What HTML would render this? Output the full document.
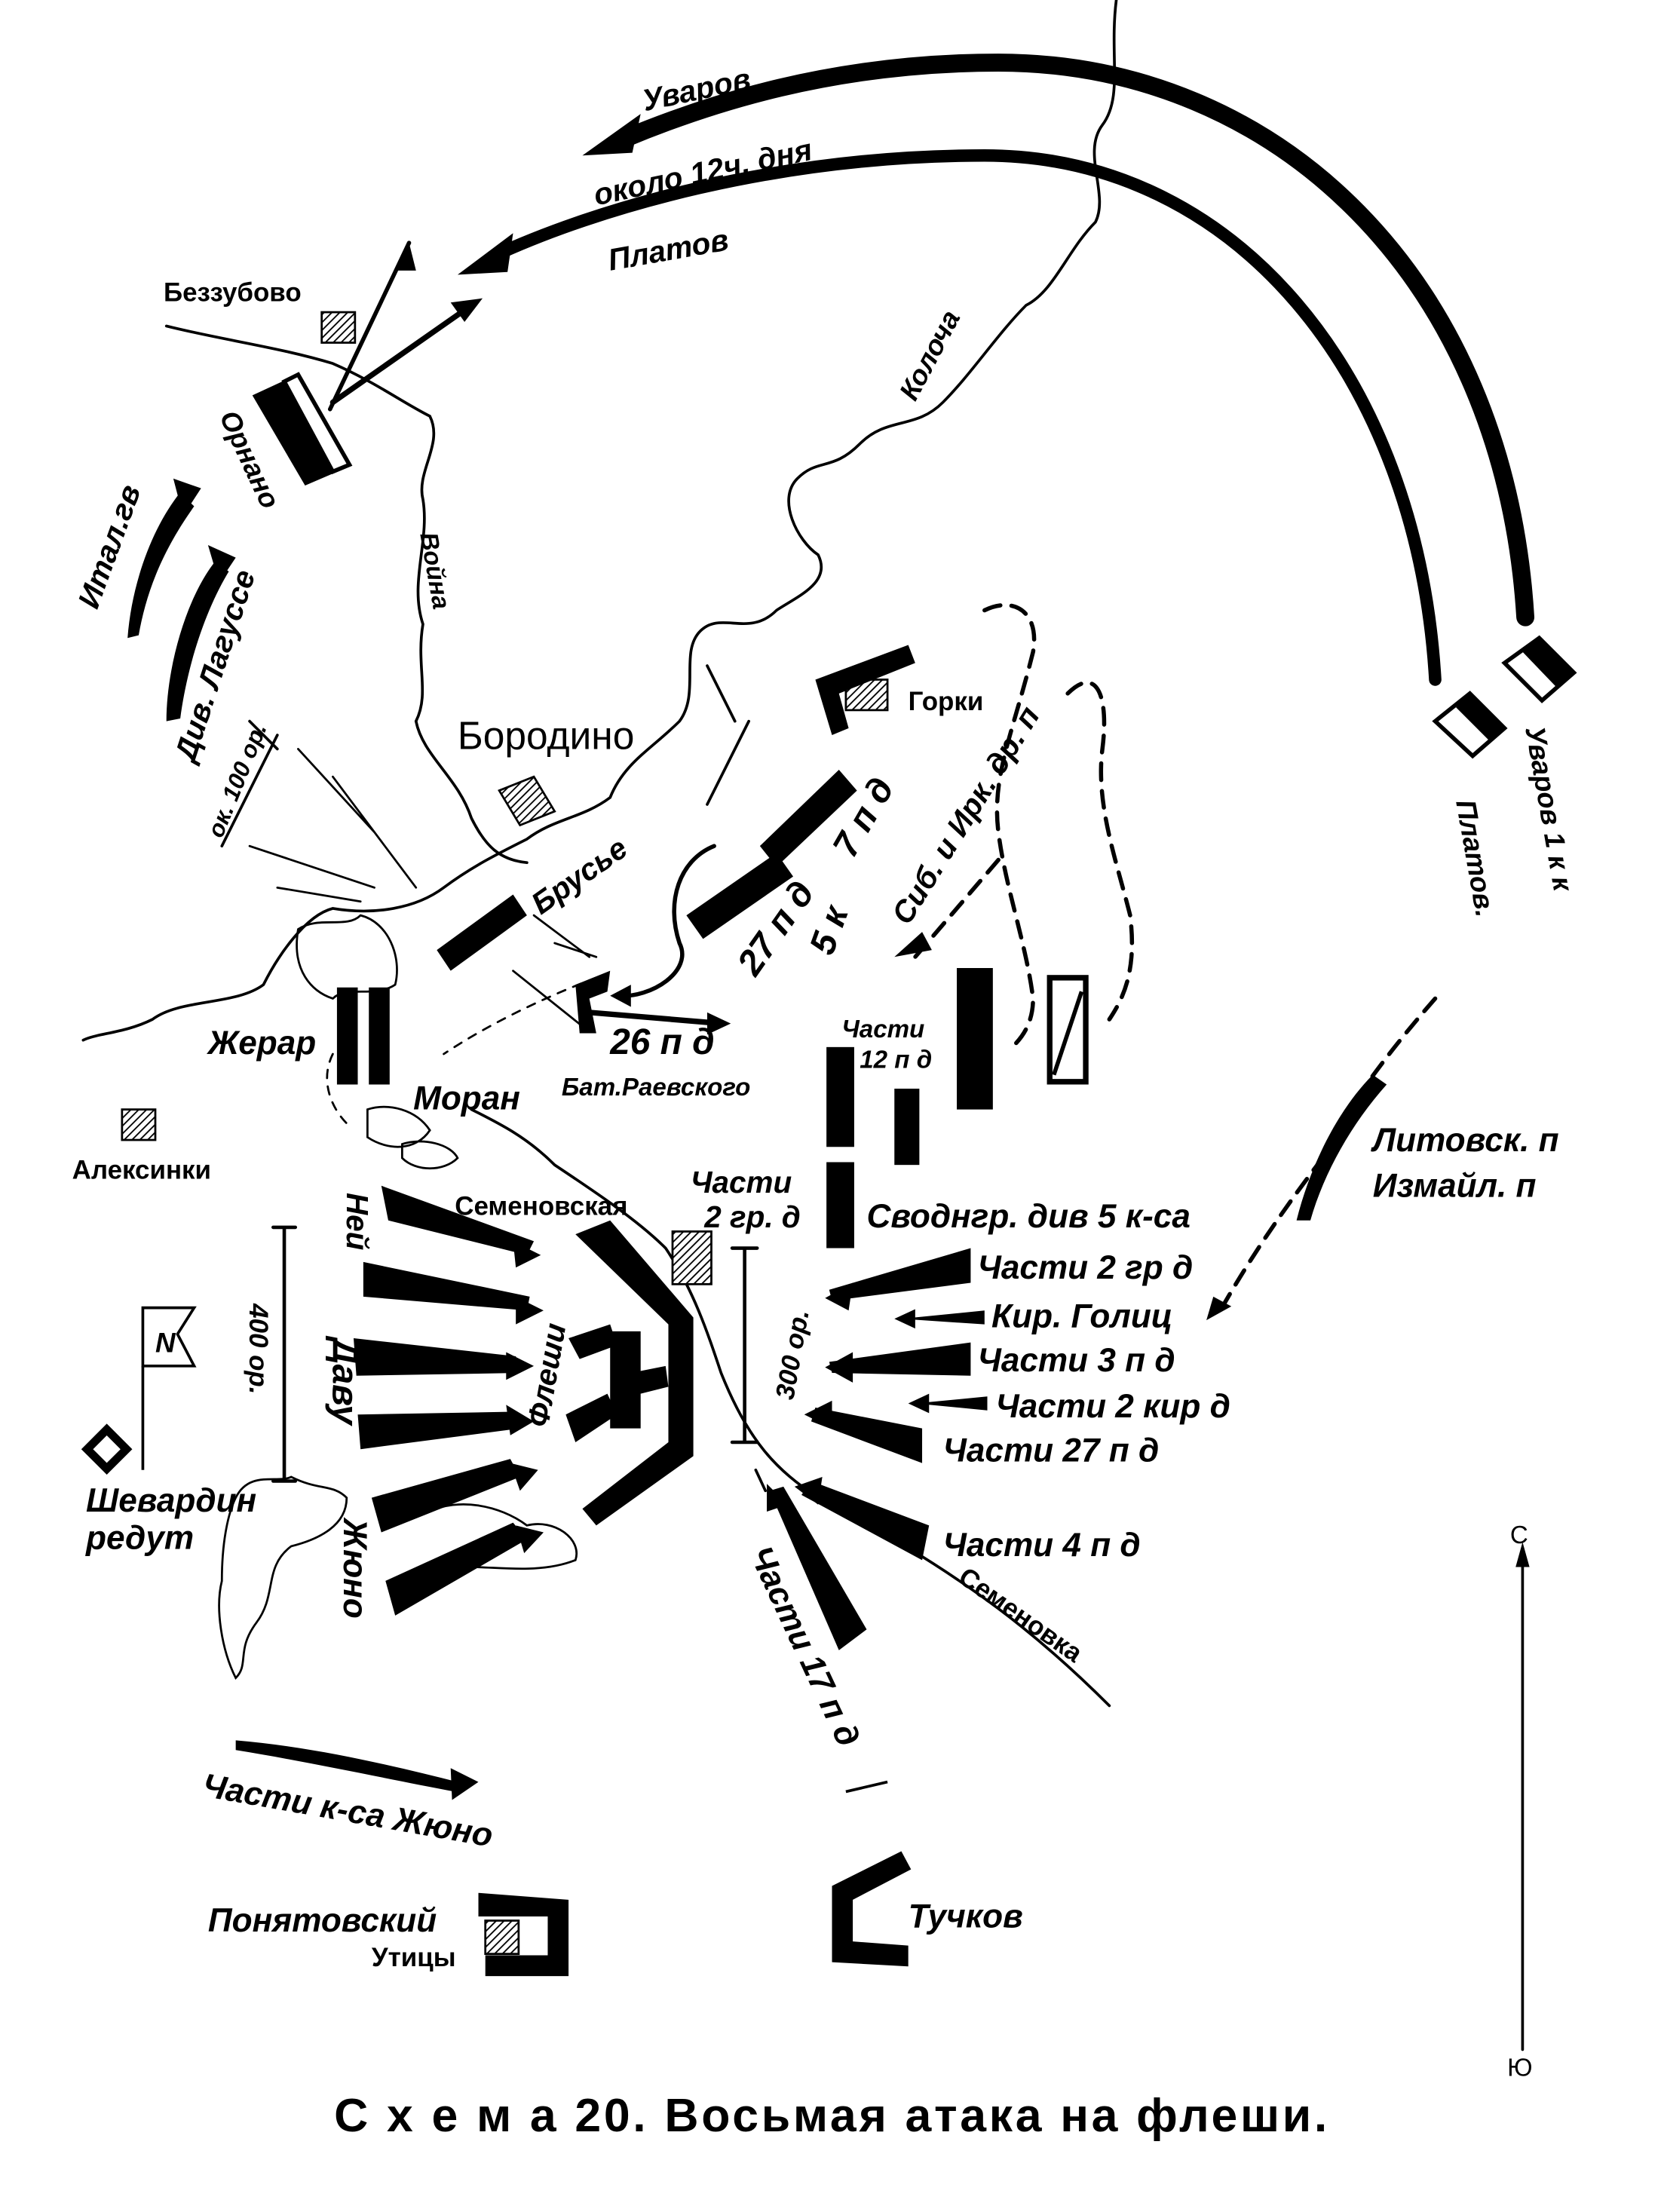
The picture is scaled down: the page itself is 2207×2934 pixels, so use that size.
<!DOCTYPE html>
<html><head><meta charset="utf-8"><style>
html,body{margin:0;padding:0;background:#fff;}
svg{display:block;}
text{font-family:"Liberation Sans",sans-serif;font-weight:bold;font-style:italic;fill:#000;}
.n{font-style:normal;font-weight:normal;}
</style></head><body>
<svg width="2207" height="2934" viewBox="0 0 1200 1595" xmlns="http://www.w3.org/2000/svg">
<defs>
<pattern id="h" width="4" height="4" patternUnits="userSpaceOnUse" patternTransform="rotate(45)"><rect width="4" height="4" fill="#fff"/><line x1="0" y1="0" x2="0" y2="4" stroke="#000" stroke-width="2"/></pattern>
</defs>
<g fill="none" stroke="#000" stroke-linecap="round">
<path d="M1100 445 C1085 200 920 45 720 45 C600 45 510 75 450 100" stroke-width="13"/>
<polygon points="420,112 462,82 456,110" fill="#000" stroke="none"/>
<path d="M1035 490 C1022 270 890 112 710 112 C560 112 430 150 355 185" stroke-width="9"/>
<polygon points="330,198 370,168 366,196" fill="#000" stroke="none"/>
<path d="M805 0 C800 40 810 70 795 90 C780 110 800 140 790 160 C770 180 760 210 740 220 C720 240 700 270 680 290 C660 310 640 300 620 320 C600 340 590 330 575 345 C560 360 575 390 590 400 C600 420 575 430 560 440 C540 460 520 440 505 455 C490 470 505 500 490 520 C470 540 450 550 440 575 C420 590 400 590 380 605 C360 615 340 625 320 640 C300 655 270 660 240 655 C220 660 200 690 190 710 C170 725 130 720 110 735 C90 745 70 745 60 750" stroke-width="2"/>
<path d="M120 235 C160 245 200 250 240 262 C270 275 290 290 310 300 C320 320 300 340 305 360 C310 390 295 420 305 450 C300 480 310 500 300 520 C305 545 330 560 340 590 C350 610 360 620 380 622" stroke-width="2"/>
<path d="M340 800 C360 810 380 820 400 840 C430 860 460 880 480 900 C500 930 510 960 520 990 C540 1040 560 1060 590 1080 C630 1100 680 1130 720 1160 C760 1190 790 1220 800 1230" stroke-width="2"/>
<path d="M215 670 C230 660 250 670 260 660 C280 665 290 690 285 710 C270 720 250 710 240 720 C225 715 210 700 215 670Z" stroke-width="1.5"/>
<path d="M265 800 C280 795 300 800 310 815 C300 830 280 830 265 820Z M290 825 C305 820 325 825 330 835 C320 845 300 845 290 835Z" stroke-width="1.5"/>
<path d="M170 1080 C180 1060 200 1070 210 1065 C230 1075 240 1070 250 1080 C250 1100 230 1110 210 1115 C190 1130 200 1150 185 1170 C170 1190 180 1200 170 1210 C160 1190 155 1160 160 1140 C160 1110 165 1090 170 1080Z" stroke-width="1.5"/>
<path d="M310 1090 C330 1080 360 1085 380 1100 C400 1095 420 1110 415 1125 C390 1135 360 1130 340 1130" stroke-width="1.5"/>
<path d="M710 440 C730 430 750 440 745 470 C730 530 715 560 720 600 C725 640 740 680 745 720 C745 740 735 750 730 755" stroke-width="3" stroke-dasharray="12,8"/>
<path d="M770 500 C790 480 800 500 795 540 C790 580 805 620 815 660 C820 700 810 720 800 735" stroke-width="3" stroke-dasharray="12,8"/>
<path d="M1035 720 C1000 760 970 800 950 840 C920 880 900 910 880 945" stroke-width="3" stroke-dasharray="12,8"/>
<path d="M720 620 L660 690" stroke-width="3" stroke-dasharray="12,8"/>
<path d="M430 705 C390 720 350 740 320 760" stroke-width="1.5" stroke-dasharray="6,6"/>
<path d="M240 760 C230 780 240 800 250 810" stroke-width="1.5" stroke-dasharray="6,6"/>
<path d="M215 540 L270 600 M240 560 L300 640 M180 610 L270 640 M200 640 L260 650" stroke-width="1.5"/>
<path d="M385 660 L425 690 M370 700 L420 740 M400 680 L430 690" stroke-width="1.5"/>
<path d="M238 295 L295 175" stroke-width="3"/>
<path d="M240 290 L340 220" stroke-width="4"/>
<path d="M510 480 L530 520 M510 580 L540 520" stroke-width="2"/>
<path d="M180 520 L200 540 M200 530 L160 610" stroke-width="2"/>
<path d="M205 885 L205 1068 M197 885 L213 885 M197 1068 L213 1068" stroke-width="2.5"/>
<path d="M537 900 L537 1040 M528 900 L546 900 M528 1040 L546 1040" stroke-width="2.5"/>
<path d="M1098 1120 L1098 1478" stroke-width="2"/>
<path d="M515 610 C490 620 480 650 490 680 C500 700 470 720 445 718" stroke-width="3"/>
<path d="M425 730 L520 738" stroke-width="4"/>
<path d="M552 1075 L545 1060" stroke-width="2"/>
</g>
<polygon points="1098,1112 1093,1130 1103,1130" fill="#000"/>
<polygon points="295,175 285,195 300,195" fill="#000"/>
<polygon points="348,215 325,218 335,232" fill="#000"/>
<polygon points="440,718 455,710 455,726" fill="#000"/>
<polygon points="527,738 510,730 510,746" fill="#000"/>
<polygon points="645,690 665,672 672,685" fill="#000"/>
<polygon points="870,952 875,935 888,942" fill="#000"/>
<rect x="232" y="225" width="24" height="22" fill="url(#h)" stroke="#000" stroke-width="1.5"/>
<rect x="610" y="490" width="30" height="22" fill="url(#h)" stroke="#000" stroke-width="1.5"/>
<path d="M360 570 L385 560 L400 585 L375 595Z" fill="url(#h)" stroke="#000" stroke-width="1.5"/>
<rect x="88" y="800" width="24" height="22" fill="url(#h)" stroke="#000" stroke-width="1.5"/>
<rect x="485" y="888" width="28" height="38" fill="url(#h)" stroke="#000" stroke-width="1.5"/>
<rect x="350" y="1385" width="24" height="24" fill="url(#h)" stroke="#000" stroke-width="1.5"/>
<g fill="#000">
<polygon points="182,285 210,272 248,338 220,350"/>
<polygon points="205,275 215,270 252,335 240,340" fill="#fff" stroke="#000" stroke-width="3"/>
<polygon points="315,685 370,645 380,660 325,700"/>
<rect x="243" y="712" width="15" height="70"/>
<rect x="266" y="712" width="15" height="70"/>
<polygon points="495,660 560,615 572,632 507,677"/>
<polygon points="548,610 605,555 618,570 560,625"/>
<rect x="690" y="698" width="26" height="102"/>
<rect x="757" y="705" width="26" height="75" fill="#fff" stroke="#000" stroke-width="4"/>
<path d="M760 775 L780 715" stroke="#000" stroke-width="3"/>
<rect x="596" y="755" width="20" height="72"/>
<rect x="645" y="785" width="18" height="55"/>
<rect x="596" y="838" width="20" height="62"/>
<polygon points="1085,478 1110,460 1135,485 1112,505" fill="#fff" stroke="#000" stroke-width="3"/>
<polygon points="1098,470 1110,460 1135,485 1122,495"/>
<polygon points="1035,520 1060,500 1085,525 1062,545" fill="#fff" stroke="#000" stroke-width="3"/>
<polygon points="1050,510 1060,500 1085,525 1075,535"/>
<path d="M415 890 L440 880 L500 950 L500 1050 L430 1100 L420 1088 L482 1040 L482 955Z"/>
<rect x="440" y="960" width="22" height="70"/>
<polygon points="410,965 440,955 445,970 418,980"/>
<polygon points="408,1020 438,1005 445,1020 415,1040"/>
<polygon points="455,990 480,985 482,1000 462,1005"/>
<path d="M345 1365 L410 1370 L410 1425 L350 1425 L350 1410 L395 1410 L395 1382 L345 1382Z"/>
<path d="M600 1360 L650 1335 L657 1348 L615 1370 L615 1400 L655 1403 L655 1418 L600 1415Z"/>
<path d="M588 490 L655 465 L660 478 L605 500 L612 525 L600 530Z"/>
<path d="M415 710 L440 700 L438 715 L425 720 L430 745 L418 745Z"/>
<polygon points="275,855 280,880 380,905 385,895"/>
<polygon points="262,910 262,935 380,945 382,935"/>
<polygon points="255,965 257,992 375,990 372,978"/>
<polygon points="258,1020 260,1045 375,1030 370,1018"/>
<polygon points="268,1080 275,1105 375,1065 368,1052"/>
<polygon points="278,1140 285,1165 380,1110 370,1098"/>
<polygon points="390,905 370,895 372,914"/>
<polygon points="392,945 372,935 372,955"/>
<polygon points="385,985 365,975 365,995"/>
<polygon points="385,1025 365,1013 368,1035"/>
<polygon points="388,1060 368,1055 375,1075"/>
<polygon points="392,1105 372,1100 378,1120"/>
<polygon points="700,900 700,925 600,938 598,930"/>
<polygon points="595,936 615,925 612,945"/>
<polygon points="700,968 700,992 600,990 598,982"/>
<polygon points="595,986 615,975 615,997"/>
<polygon points="665,1030 665,1055 585,1025 588,1015"/>
<polygon points="580,1020 600,1010 600,1030"/>
<polygon points="670,1100 665,1125 578,1078 585,1068"/>
<polygon points="573,1072 593,1065 590,1085"/>
<polygon points="625,1175 605,1190 555,1075 565,1072"/>
<polygon points="553,1070 568,1085 553,1090"/>
<polygon points="710,945 710,955 650,951"/>
<polygon points="645,951 660,944 660,958"/>
<polygon points="712,1007 712,1017 660,1012"/>
<polygon points="655,1012 670,1005 670,1019"/>
<path d="M92 460 C95 420 110 380 130 355 L140 365 C115 400 105 430 100 458Z"/>
<polygon points="125,345 145,352 132,372"/>
<path d="M120 520 C120 480 135 430 155 405 L165 412 C148 440 135 480 130 518Z"/>
<polygon points="150,393 170,402 158,420"/>
<path d="M935 880 C945 840 965 800 990 775 L1000 782 C975 810 955 845 945 880Z"/>
<path d="M170 1255 C230 1260 290 1275 330 1285 L328 1292 C280 1283 220 1270 170 1262Z"/>
<polygon points="345,1285 325,1275 326,1298"/>
<path d="M610 1292 L640 1285" stroke="#000" stroke-width="2"/>
</g>
<rect x="67" y="1035" width="20" height="20" transform="rotate(45 77 1045)" fill="none" stroke="#000" stroke-width="6"/>
<path d="M103 985 L103 1060" stroke="#000" stroke-width="2"/>
<path d="M103 943 L140 943 L128 962 L140 985 L103 985Z" fill="#fff" stroke="#000" stroke-width="2"/>
<text x="112" y="975" font-size="20">N</text>
<text x="465" y="80" font-size="22" transform="rotate(-12 465 80)">Уваров</text>
<text x="430" y="148" font-size="22" transform="rotate(-12 430 148)">около 12ч. дня</text>
<text x="440" y="195" font-size="22" transform="rotate(-10 440 195)">Платов</text>
<text x="660" y="290" font-size="20" transform="rotate(-62 660 290)">Колоча</text>
<text x="118" y="217" font-size="19" style="font-style:normal">Беззубово</text>
<text x="158" y="300" font-size="20" transform="rotate(65 158 300)">Орнано</text>
<text x="70" y="440" font-size="22" transform="rotate(-70 70 440)">Итал.гв</text>
<text x="140" y="550" font-size="22" transform="rotate(-72 140 550)">Див. Лагуссе</text>
<text x="160" y="605" font-size="17" transform="rotate(-68 160 605)">ок. 100 ор.</text>
<text x="303" y="385" font-size="18" transform="rotate(80 303 385)">Война</text>
<text class="n" x="330" y="540" font-size="28">Бородино</text>
<text x="655" y="512" font-size="19" style="font-style:normal">Горки</text>
<text x="390" y="660" font-size="22" transform="rotate(-35 390 660)">Брусье</text>
<text x="545" y="705" font-size="26" transform="rotate(-55 545 705)">27 п д</text>
<text x="615" y="620" font-size="26" transform="rotate(-60 615 620)">7 п д</text>
<text x="600" y="690" font-size="26" transform="rotate(-70 600 690)">5 к</text>
<text x="655" y="668" font-size="22" transform="rotate(-58 655 668)">Сиб. и Ирк. др. п</text>
<text x="1100" y="525" font-size="20" transform="rotate(80 1100 525)">Уваров 1 к к</text>
<text x="1050" y="578" font-size="20" transform="rotate(80 1050 578)">Платов.</text>
<text x="440" y="760" font-size="26">26 п д</text>
<text x="405" y="790" font-size="18">Бат.Раевского</text>
<text x="150" y="760" font-size="24">Жерар</text>
<text x="298" y="800" font-size="24">Моран</text>
<text x="52" y="850" font-size="19" style="font-style:normal">Алексинки</text>
<text x="607" y="748" font-size="18">Части</text>
<text x="620" y="770" font-size="18">12 п д</text>
<text x="498" y="860" font-size="22">Части</text>
<text x="508" y="885" font-size="22">2 гр. д</text>
<text x="328" y="876" font-size="19" style="font-style:normal">Семеновская</text>
<text x="625" y="885" font-size="24">Своднгр. див  5 к-са</text>
<text x="990" y="830" font-size="24">Литовск. п</text>
<text x="990" y="863" font-size="24">Измайл. п</text>
<text x="705" y="922" font-size="24">Части 2 гр д</text>
<text x="715" y="957" font-size="24">Кир. Голиц</text>
<text x="705" y="989" font-size="24">Части 3 п д</text>
<text x="718" y="1022" font-size="24">Части 2 кир д</text>
<text x="680" y="1054" font-size="24">Части 27 п д</text>
<text x="680" y="1122" font-size="24">Части 4 п д</text>
<text x="540" y="1120" font-size="24" transform="rotate(65 540 1120)">Части 17 п д</text>
<text x="690" y="1140" font-size="19" style="font-style:normal" transform="rotate(35 690 1140)">Семеновка</text>
<text x="572" y="1010" font-size="19" transform="rotate(-80 572 1010)">300 ор.</text>
<text x="180" y="940" font-size="19" transform="rotate(90 180 940)">400 ор.</text>
<text x="250" y="860" font-size="22" transform="rotate(90 250 860)">Ней</text>
<text x="240" y="965" font-size="26" transform="rotate(90 240 965)">Даву</text>
<text x="248" y="1095" font-size="24" transform="rotate(90 248 1095)">Жюно</text>
<text x="395" y="1030" font-size="22" transform="rotate(-80 395 1030)">Флеши</text>
<text x="62" y="1090" font-size="24">Шевардин</text>
<text x="62" y="1117" font-size="24">редут</text>
<text x="145" y="1295" font-size="24" transform="rotate(10 145 1295)">Части к-са Жюно</text>
<text x="150" y="1393" font-size="24">Понятовский</text>
<text x="268" y="1418" font-size="19" style="font-style:normal">Утицы</text>
<text x="655" y="1390" font-size="24">Тучков</text>
<text class="n" x="1089" y="1113" font-size="18">С</text>
<text class="n" x="1087" y="1497" font-size="18">Ю</text>
<text x="600" y="1537" font-size="34" text-anchor="middle" style="font-style:normal;letter-spacing:2px">С х е м а  20.  Восьмая атака на флеши.</text>
</svg>
</body></html>
